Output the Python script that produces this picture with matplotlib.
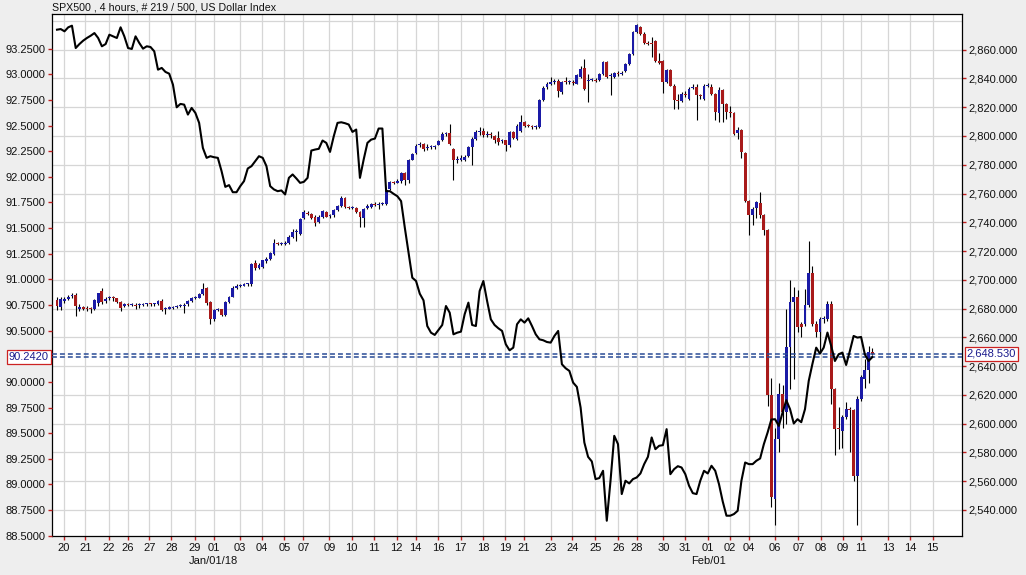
import matplotlib
matplotlib.use('Agg')
import matplotlib.pyplot as plt
import matplotlib.transforms as mtransforms
import numpy as np

plt.rcParams['font.family'] = ['Liberation Sans', 'DejaVu Sans']

title = "SPX500 , 4 hours, # 219 / 500, US Dollar Index"

# ---- SPX500 4-hour candles ----
spx_open = [
    2685.6, 2680.9, 2685.5, 2686.7, 2688.5, 2689.5, 2680.0, 2680.5, 2680.5, 2680.0,
    2679.8, 2684.0, 2692.5, 2685.0, 2687.0, 2687.2, 2687.0, 2684.4, 2682.0, 2682.7,
    2682.5, 2682.7, 2682.2, 2682.5, 2683.0, 2683.2, 2683.0, 2683.3, 2685.5, 2679.5,
    2680.0, 2680.5, 2681.0, 2681.5, 2682.0, 2683.0, 2685.2, 2687.0, 2687.5, 2690.2,
    2694.3, 2684.4, 2672.4, 2679.2, 2679.5, 2675.8, 2684.2, 2688.3, 2694.0, 2695.5,
    2696.0, 2696.8, 2696.8, 2711.5, 2708.5, 2709.0, 2713.0, 2714.6, 2718.0, 2725.2,
    2725.0, 2725.2, 2725.5, 2729.6, 2733.0, 2732.0, 2743.0, 2746.5, 2746.0, 2744.0,
    2740.1, 2743.6, 2747.0, 2744.5, 2744.8, 2748.2, 2751.2, 2756.8, 2750.3, 2749.8,
    2750.0, 2747.0, 2743.1, 2750.0, 2750.5, 2752.5, 2752.3, 2752.5, 2752.8, 2763.3,
    2767.9, 2767.6, 2769.0, 2774.2, 2769.1, 2783.4, 2788.1, 2793.5, 2794.1, 2791.5,
    2792.0, 2792.5, 2794.0, 2796.9, 2801.5, 2802.0, 2791.1, 2783.0, 2783.5, 2783.3,
    2786.0, 2792.2, 2798.0, 2803.0, 2803.8, 2800.4, 2801.0, 2799.7, 2798.7, 2796.5,
    2796.9, 2793.4, 2802.7, 2798.0, 2803.8, 2809.6, 2807.3, 2807.0, 2806.0, 2806.6,
    2825.2, 2834.0, 2836.3, 2837.5, 2838.6, 2830.5, 2837.5, 2837.3, 2837.5, 2836.5,
    2841.0, 2847.2, 2838.0, 2839.0, 2839.1, 2839.1, 2843.3, 2851.4, 2841.5, 2840.9,
    2843.5, 2843.3, 2845.1, 2850.2, 2857.2, 2872.2, 2875.7, 2871.1, 2864.6, 2864.3,
    2866.4, 2852.0, 2852.5, 2837.5, 2845.6, 2835.1, 2824.7, 2824.2, 2829.0, 2825.9,
    2833.5, 2834.4, 2828.0, 2825.9, 2835.1, 2834.4, 2829.3, 2816.1, 2832.1, 2822.4,
    2816.3, 2815.9, 2802.0, 2804.3, 2788.1, 2754.7, 2744.7, 2750.0, 2753.4, 2744.7,
    2734.3, 2619.5, 2547.6, 2589.4, 2620.6, 2607.9, 2653.1, 2684.4, 2687.9, 2669.3,
    2669.3, 2682.1, 2704.6, 2669.3, 2663.5, 2672.8, 2672.8, 2683.3, 2624.1, 2596.3,
    2595.1, 2604.4, 2610.2, 2609.1, 2563.8, 2617.2, 2631.1, 2636.9, 2650.0,
]
spx_high = [
    2687.9, 2688.0, 2688.0, 2689.5, 2691.0, 2691.0, 2683.0, 2681.5, 2681.5, 2681.0,
    2686.5, 2691.0, 2694.0, 2688.0, 2689.0, 2689.0, 2687.5, 2685.0, 2683.5, 2683.5,
    2683.5, 2683.5, 2683.5, 2684.0, 2684.0, 2684.0, 2684.0, 2686.0, 2686.5, 2681.0,
    2681.5, 2682.0, 2682.5, 2683.0, 2683.5, 2686.0, 2688.0, 2688.5, 2691.0, 2697.5,
    2695.0, 2685.0, 2680.0, 2680.5, 2680.0, 2685.0, 2689.0, 2695.5, 2697.0, 2697.0,
    2697.5, 2698.0, 2712.0, 2713.5, 2711.5, 2714.0, 2716.0, 2719.5, 2728.5, 2726.5,
    2726.0, 2727.0, 2731.0, 2735.0, 2735.0, 2743.0, 2748.5, 2747.5, 2746.5, 2745.0,
    2745.0, 2748.5, 2747.5, 2745.5, 2749.0, 2752.0, 2758.6, 2757.5, 2751.0, 2751.0,
    2750.5, 2747.5, 2750.0, 2752.5, 2753.5, 2754.0, 2754.0, 2754.0, 2763.0, 2768.5,
    2769.0, 2770.0, 2775.0, 2775.0, 2784.0, 2788.5, 2794.5, 2795.5, 2795.0, 2794.5,
    2794.0, 2794.0, 2797.0, 2802.5, 2803.0, 2808.0, 2791.5, 2786.0, 2786.5, 2786.5,
    2793.0, 2799.0, 2804.0, 2806.0, 2805.5, 2803.5, 2802.5, 2800.5, 2803.5, 2798.0,
    2797.5, 2803.5, 2803.5, 2808.0, 2814.3, 2810.5, 2808.5, 2807.5, 2807.5, 2826.0,
    2834.5, 2837.5, 2841.0, 2839.5, 2839.5, 2838.5, 2841.0, 2839.0, 2839.0, 2843.0,
    2848.5, 2853.7, 2843.0, 2840.5, 2840.0, 2844.0, 2852.5, 2852.5, 2843.5, 2844.5,
    2845.0, 2845.0, 2851.0, 2857.5, 2873.0, 2878.0, 2876.5, 2872.0, 2866.0, 2868.8,
    2867.0, 2857.5, 2853.0, 2846.5, 2846.5, 2836.0, 2829.3, 2830.5, 2831.5, 2834.0,
    2836.5, 2836.0, 2829.5, 2836.0, 2837.0, 2836.0, 2830.0, 2834.0, 2833.0, 2823.0,
    2821.0, 2817.0, 2806.0, 2805.0, 2789.0, 2755.5, 2750.5, 2755.0, 2760.9, 2745.5,
    2735.0, 2632.0, 2597.0, 2628.0, 2627.0, 2679.8, 2699.5, 2694.9, 2693.0, 2670.5,
    2693.7, 2726.9, 2709.9, 2671.0, 2674.0, 2675.0, 2685.5, 2685.5, 2625.0, 2611.4,
    2606.0, 2614.9, 2611.5, 2610.0, 2619.0, 2633.5, 2645.0, 2654.0, 2652.5,
]
spx_low = [
    2679.0, 2679.0, 2684.0, 2686.0, 2687.0, 2675.0, 2678.0, 2679.0, 2678.5, 2677.0,
    2679.0, 2682.0, 2683.0, 2684.0, 2686.0, 2685.5, 2683.8, 2678.0, 2681.0, 2682.0,
    2682.0, 2680.0, 2680.5, 2682.0, 2682.0, 2682.0, 2682.0, 2682.5, 2678.5, 2676.0,
    2679.5, 2680.0, 2680.5, 2681.0, 2677.0, 2682.0, 2684.5, 2686.5, 2687.0, 2689.5,
    2682.5, 2669.0, 2671.0, 2678.0, 2674.5, 2675.0, 2683.5, 2688.0, 2693.5, 2695.0,
    2695.5, 2696.0, 2696.0, 2706.8, 2707.5, 2708.5, 2712.0, 2714.0, 2717.0, 2724.0,
    2724.0, 2724.5, 2725.0, 2729.0, 2727.0, 2731.0, 2742.5, 2745.0, 2742.5, 2737.5,
    2739.5, 2743.0, 2743.5, 2743.0, 2744.0, 2747.5, 2750.5, 2750.0, 2749.0, 2749.0,
    2746.5, 2736.6, 2736.6, 2749.0, 2750.0, 2751.0, 2749.0, 2752.0, 2752.0, 2762.5,
    2766.5, 2767.0, 2767.0, 2766.0, 2767.5, 2783.0, 2787.5, 2792.0, 2789.5, 2790.0,
    2791.0, 2791.0, 2793.5, 2796.5, 2800.0, 2794.0, 2769.1, 2781.0, 2782.5, 2782.5,
    2785.5, 2779.5, 2797.5, 2801.0, 2799.5, 2799.5, 2798.5, 2795.0, 2794.0, 2795.0,
    2789.9, 2792.5, 2798.0, 2797.0, 2803.0, 2806.5, 2806.0, 2805.0, 2805.0, 2805.5,
    2824.5, 2833.0, 2835.5, 2836.0, 2827.0, 2829.5, 2836.0, 2836.0, 2835.5, 2836.0,
    2840.0, 2832.0, 2823.6, 2838.0, 2837.5, 2838.0, 2842.5, 2840.0, 2828.2, 2840.0,
    2842.0, 2842.5, 2844.5, 2849.5, 2856.5, 2871.5, 2870.5, 2864.0, 2863.5, 2854.9,
    2851.5, 2850.0, 2829.8, 2837.0, 2834.5, 2818.9, 2818.9, 2823.5, 2827.0, 2825.0,
    2832.5, 2811.3, 2825.5, 2825.0, 2834.0, 2828.5, 2811.0, 2809.6, 2809.6, 2812.0,
    2813.0, 2800.5, 2798.0, 2784.8, 2754.0, 2730.8, 2738.0, 2743.0, 2743.0, 2730.8,
    2612.0, 2541.8, 2529.1, 2580.0, 2597.0, 2600.0, 2624.1, 2631.1, 2664.0, 2660.5,
    2668.0, 2681.0, 2668.0, 2660.0, 2650.0, 2670.0, 2671.5, 2613.7, 2577.8, 2582.4,
    2583.0, 2603.0, 2580.1, 2560.0, 2529.1, 2616.0, 2625.0, 2628.0, 2647.5,
]
spx_close = [
    2681.5, 2686.7, 2686.8, 2688.3, 2689.0, 2681.5, 2681.0, 2680.0, 2679.8, 2679.5,
    2685.6, 2690.6, 2684.4, 2686.7, 2687.2, 2687.0, 2684.4, 2680.5, 2683.0, 2682.5,
    2682.7, 2682.0, 2682.5, 2683.0, 2683.2, 2683.0, 2683.3, 2685.0, 2679.0, 2680.0,
    2680.5, 2681.0, 2681.5, 2682.0, 2682.5, 2685.5, 2687.0, 2687.5, 2690.2, 2693.7,
    2683.5, 2672.4, 2679.2, 2679.5, 2675.5, 2684.4, 2688.3, 2694.4, 2695.5, 2696.0,
    2696.8, 2697.3, 2711.1, 2708.3, 2710.0, 2713.4, 2714.6, 2718.5, 2725.5, 2725.0,
    2725.2, 2725.7, 2729.6, 2733.1, 2733.3, 2742.4, 2747.0, 2746.0, 2743.1, 2739.4,
    2744.0, 2747.7, 2744.0, 2745.0, 2748.2, 2751.6, 2756.8, 2750.5, 2749.8, 2750.0,
    2747.0, 2743.5, 2749.3, 2751.0, 2752.8, 2752.3, 2752.5, 2753.0, 2762.1, 2767.9,
    2767.6, 2769.0, 2774.2, 2769.5, 2783.4, 2787.6, 2793.0, 2794.1, 2791.1, 2792.0,
    2792.5, 2793.0, 2796.4, 2801.1, 2801.8, 2794.6, 2783.0, 2784.0, 2785.0, 2785.5,
    2792.2, 2798.0, 2802.7, 2803.4, 2800.4, 2801.5, 2800.5, 2797.3, 2795.7, 2796.8,
    2793.4, 2802.7, 2798.7, 2807.3, 2809.6, 2807.3, 2807.0, 2806.0, 2806.6, 2825.2,
    2833.5, 2836.3, 2837.5, 2838.6, 2831.2, 2837.5, 2837.3, 2837.8, 2837.0, 2842.1,
    2846.7, 2832.8, 2839.0, 2839.1, 2838.6, 2843.3, 2851.4, 2840.9, 2842.1, 2843.7,
    2843.3, 2843.9, 2850.2, 2856.7, 2872.2, 2876.9, 2871.1, 2864.6, 2864.3, 2864.1,
    2852.5, 2851.0, 2837.5, 2845.6, 2835.1, 2824.7, 2824.2, 2829.3, 2828.2, 2832.8,
    2834.4, 2828.2, 2827.5, 2835.1, 2835.5, 2829.3, 2816.6, 2832.1, 2822.4, 2816.6,
    2815.9, 2801.5, 2804.3, 2788.8, 2755.1, 2744.7, 2749.3, 2754.0, 2744.7, 2734.3,
    2619.5, 2548.8, 2589.4, 2620.6, 2607.9, 2653.1, 2684.4, 2687.9, 2667.0, 2667.0,
    2682.1, 2704.6, 2669.3, 2663.5, 2672.8, 2673.0, 2683.3, 2624.1, 2596.3, 2596.0,
    2604.4, 2610.2, 2609.1, 2563.8, 2617.2, 2632.2, 2636.9, 2649.6, 2648.53,
]

# ---- US Dollar Index, one value per bar ----
usd_index = [
    93.435, 93.441, 93.419, 93.458, 93.474, 93.256, 93.295, 93.328, 93.354, 93.376,
    93.402, 93.354, 93.273, 93.295, 93.386, 93.370, 93.354, 93.458, 93.370, 93.256,
    93.247, 93.370, 93.305, 93.250, 93.273, 93.266, 93.224, 93.045, 93.062, 93.023,
    93.006, 92.899, 92.678, 92.711, 92.704, 92.607, 92.672, 92.623, 92.526, 92.282,
    92.185, 92.201, 92.191, 92.185, 92.055, 91.902, 91.919, 91.850, 91.850, 91.909,
    91.958, 92.081, 92.104, 92.152, 92.201, 92.185, 92.104, 91.909, 91.877, 91.860,
    91.867, 91.828, 91.990, 92.023, 91.984, 91.941, 91.951, 91.990, 92.256, 92.266,
    92.273, 92.354, 92.331, 92.243, 92.396, 92.526, 92.532, 92.523, 92.510, 92.438,
    92.461, 91.990, 92.169, 92.331, 92.363, 92.373, 92.471, 92.471, 91.860, 91.860,
    91.834, 91.811, 91.763, 91.503, 91.260, 91.016, 90.984, 90.860, 90.795, 90.545,
    90.480, 90.458, 90.506, 90.555, 90.740, 90.675, 90.464, 90.480, 90.490, 90.660,
    90.773, 90.555, 90.545, 90.886, 90.984, 90.789, 90.610, 90.555, 90.523, 90.497,
    90.367, 90.308, 90.334, 90.562, 90.610, 90.578, 90.620, 90.545, 90.464, 90.415,
    90.406, 90.389, 90.383, 90.448, 90.497, 90.172, 90.133, 90.107, 89.993, 89.951,
    89.750, 89.409, 89.269, 89.224, 89.052, 89.062, 89.133, 88.646, 89.036, 89.474,
    89.393, 88.906, 89.036, 89.010, 89.052, 89.068, 89.107, 89.198, 89.269, 89.458,
    89.344, 89.377, 89.383, 89.539, 89.100, 89.149, 89.178, 89.165, 89.100, 88.987,
    88.915, 88.906, 89.036, 89.133, 89.107, 89.182, 89.133, 89.003, 88.834, 88.695,
    88.695, 88.711, 88.743, 89.036, 89.214, 89.198, 89.198, 89.231, 89.253, 89.393,
    89.506, 89.633, 89.636, 89.571, 89.701, 89.821, 89.734, 89.594, 89.636, 89.607,
    89.734, 90.010, 90.178, 90.334, 90.276, 90.334, 90.481, 90.351, 90.204, 90.269,
    90.286, 90.165, 90.302, 90.448, 90.432, 90.438, 90.269, 90.204, 90.242,
]

usd_last = 90.242
spx_last = 2648.53

# x axis: day labels at bar positions
day_pos = [1.8, 7.6, 13.8, 19.0, 24.7, 30.6, 36.8, 41.9, 48.9, 54.7, 60.8, 65.9,
           72.8, 78.8, 84.8, 90.8, 95.9, 102.0, 107.9, 114.0, 119.9, 124.9, 132.0,
           137.8, 143.9, 150.1, 155.0, 162.1, 167.9, 174.1, 180.0, 185.0, 192.0,
           198.2, 204.2, 210.2, 214.9, 222.3, 228.2, 234.1]
day_labels = ['20', '21', '22', '26', '27', '28', '29', '01', '03', '04', '05', '07',
              '09', '10', '11', '12', '14', '16', '17', '18', '19', '21', '23',
              '24', '25', '26', '28', '30', '31', '01', '02', '04', '06',
              '07', '08', '09', '11', '13', '14', '15']
month_pos = [41.9, 174.1]
month_labels = ['Jan/01/18', 'Feb/01']

usd_ticks = [88.5, 88.75, 89.0, 89.25, 89.5, 89.75, 90.0, 90.5, 90.75, 91.0,
             91.25, 91.5, 91.75, 92.0, 92.25, 92.5, 92.75, 93.0, 93.25]
spx_ticks = list(range(2540, 2861, 20))
spx_grid = list(range(2540, 2881, 20))

# ---------------- drawing ----------------
W, H = 1026, 575
fig = plt.figure(figsize=(W / 100, H / 100), dpi=100, facecolor='#EEEEEE')
L, R, T, B = 51.7, 962.3, 14.3, 535.7
ax = fig.add_axes([L / W, 1 - B / H, (R - L) / W, (B - T) / H])
ax.set_facecolor('white')
ax2 = ax.twinx()
ax2.patch.set_visible(False)

TICKC = '#C02020'
BLUE = '#1A1AA6'
RED = '#A81A1A'
DASH = '#2A4C96'

n = len(spx_close)
xs = np.arange(n)
o = np.array(spx_open)
c = np.array(spx_close)
hi = np.array(spx_high)
lo = np.array(spx_low)

# grid
for g in spx_grid:
    ax.axhline(g, color='#D6D6D6', lw=0.9, zorder=0)
for p in day_pos:
    ax.axvline(p, color='#D6D6D6', lw=0.9, zorder=0)

# candles (SPX, right axis)
ax.vlines(xs, lo, hi, color='black', lw=0.8, zorder=2)
up = c >= o
bottoms = np.minimum(o, c)
heights = np.maximum(np.abs(c - o), 0.7)
cols = [BLUE if u else RED for u in up]
ax.bar(xs, heights, bottom=bottoms, width=0.76, color=cols, linewidth=0, zorder=3)
ax.axhline(spx_last, color=DASH, lw=1.1, dashes=(3.2, 2.0), zorder=4)

ax.set_xlim(-1.42, 242.06)
ax.set_ylim(2521.95, 2884.66)
ax.set_yticks(spx_ticks)
ax.set_yticklabels([f"{v:,.3f}" for v in spx_ticks])
ax.set_xticks(day_pos)
ax.set_xticklabels(day_labels)
for s in ax.spines.values():
    s.set_color('black')
    s.set_linewidth(0.9)

# month labels (second row)
trans = mtransforms.blended_transform_factory(ax.transData, ax.transAxes)
for p, lab in zip(month_pos, month_labels):
    ax.text(p, -0.048, lab, transform=trans, ha='center', va='center',
            fontsize=8, color='#111111', clip_on=False)

# USD index (left axis)
for s in ax2.spines.values():
    s.set_visible(False)
ax2.plot(xs, usd_index, color='black', lw=1.5, zorder=5, solid_joinstyle='round')
ax2.axhline(usd_last, color=DASH, lw=1.1, dashes=(3.2, 2.0), zorder=4)
ax2.set_ylim(88.5, 93.585)
ax2.set_yticks(usd_ticks)
ax2.set_yticklabels([f"{v:.4f}" for v in usd_ticks])

# put SPX ticks on right, USD ticks on left
ax.yaxis.tick_right()
ax.yaxis.set_label_position('right')
ax2.yaxis.tick_left()
ax2.yaxis.set_label_position('left')

ax.tick_params(axis='y', which='both', colors=TICKC, labelcolor='#111111',
               labelsize=8, length=3, width=1, pad=1.5, direction='out',
               left=False, labelleft=False, right=True, labelright=True)
ax.tick_params(axis='x', colors=TICKC, labelcolor='#111111', labelsize=8,
               length=3, width=1, pad=2.5, direction='out')
ax2.tick_params(axis='y', colors=TICKC, labelcolor='#111111', labelsize=8,
                length=3, width=1, pad=1.5, direction='out',
                left=True, labelleft=True, right=False, labelright=False)

# last-value boxes
tl = mtransforms.blended_transform_factory(fig.transFigure, ax2.transData)
fig.text(48.5 / W, usd_last, f"{usd_last:.4f}", transform=tl, ha='right', va='center',
         fontsize=8, color='#1A1A8C', zorder=10,
         bbox=dict(boxstyle='square,pad=0.18', fc='white', ec='#CC2222', lw=0.9))
tr = mtransforms.blended_transform_factory(fig.transFigure, ax.transData)
fig.text(966.5 / W, spx_last, f"{spx_last:,.3f}", transform=tr, ha='left', va='center',
         fontsize=8, color='#1A1A8C', zorder=10,
         bbox=dict(boxstyle='square,pad=0.18', fc='white', ec='#CC2222', lw=0.9))

fig.text(L / W, 1 - 7 / H, title, ha='left', va='center', fontsize=7.7, color='#111111')

fig.savefig('out.png', dpi=100, facecolor=fig.get_facecolor())
